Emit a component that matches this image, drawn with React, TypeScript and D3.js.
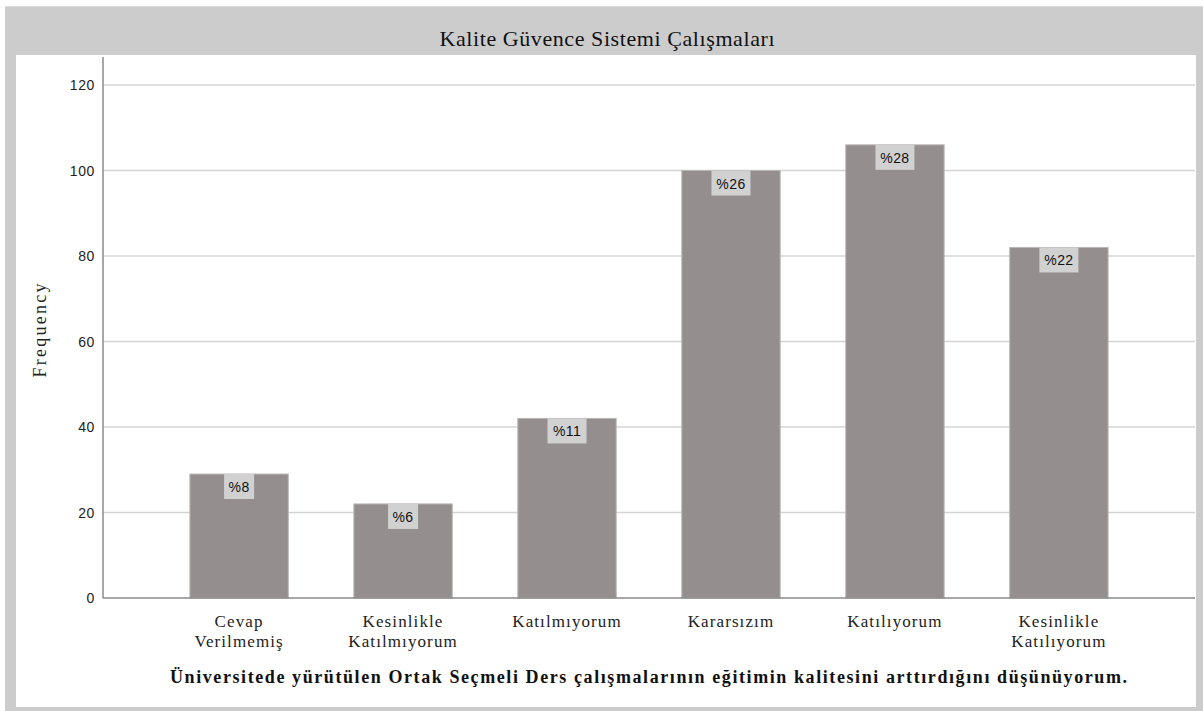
import React from "react";
import * as d3 from "d3";

const categories: string[][] = [
  ["Cevap", "Verilmemiş"],
  ["Kesinlikle", "Katılmıyorum"],
  ["Katılmıyorum"],
  ["Kararsızım"],
  ["Katılıyorum"],
  ["Kesinlikle", "Katılıyorum"],
];
const frequencies: number[] = [29, 22, 42, 100, 106, 82];
const percentLabels: string[] = ["%8", "%6", "%11", "%26", "%28", "%22"];
const yTicks: number[] = [0, 20, 40, 60, 80, 100, 120];

const chartTitle = "Kalite Güvence Sistemi Çalışmaları";
const xTitle =
  "Üniversitede yürütülen Ortak Seçmeli Ders çalışmalarının eğitimin kalitesini arttırdığını düşünüyorum.";
const yTitle = "Frequency";

const W = 1203;
const H = 711;
const plotLeft = 103;
const plotRight = 1195;
const plotTop = 57;
const plotBottom = 598;

const serif: React.CSSProperties = { fontFamily: "Liberation Serif" };
const sans: React.CSSProperties = { fontFamily: "Liberation Sans" };

export default function App() {
  const x = d3
    .scaleBand<number>()
    .domain(d3.range(categories.length))
    .range([plotLeft, plotRight])
    .paddingInner(0.4)
    .paddingOuter(0.53);
  const y = d3.scaleLinear().domain([0, 120]).range([plotBottom, 85]);

  return (
    <div style={{ position: "absolute", left: 0, top: 0 }}>
      <svg width={W} height={H} style={{ display: "block" }}>
        <rect x={0} y={0} width={W} height={H} fill="#ffffff" />
        <rect x={5} y={6} width={W - 5} height={H - 6} fill="#cccccc" />
        <rect x={5} y={6} width={W - 5} height={1} fill="#dedede" />
        <rect x={16} y={55} width={1180} height={652} fill="#ffffff" />

        <text
          x={607}
          y={46}
          textAnchor="middle"
          style={serif}
          fontSize={22}
          textLength={335}
          lengthAdjust="spacing"
          fill="#111"
        >
          {chartTitle}
        </text>

        {yTicks
          .filter((t) => t !== 0)
          .map((t) => (
            <line
              key={"g" + t}
              x1={plotLeft}
              x2={plotRight}
              y1={y(t)}
              y2={y(t)}
              stroke="#d4d4d4"
              strokeWidth={1.6}
            />
          ))}

        {yTicks.map((t) => (
          <text
            key={"t" + t}
            x={95}
            y={y(t) + 5}
            textAnchor="end"
            style={sans}
            fontSize={14}
            letterSpacing={0.6}
            fill="#222"
          >
            {t}
          </text>
        ))}

        {frequencies.map((v, i) => {
          const bx = x(i)!;
          const bw = x.bandwidth();
          const by = y(v);
          const lbl = percentLabels[i];
          const boxW = 12 + 9 * lbl.length;
          const cx = bx + bw / 2;
          return (
            <g key={"b" + i}>
              <rect
                x={bx}
                y={by}
                width={bw}
                height={plotBottom - by}
                fill="#948f8e"
                stroke="#bab6b5"
                strokeWidth={1}
              />
              <rect x={cx - boxW / 2} y={by} width={boxW} height={25} fill="#d1d1d1" />
              <text
                x={cx}
                y={by + 18}
                textAnchor="middle"
                style={sans}
                fontSize={14}
                letterSpacing={0.4}
                fill="#111"
              >
                {lbl}
              </text>
            </g>
          );
        })}

        <line x1={plotLeft} x2={plotLeft} y1={plotTop} y2={plotBottom} stroke="#8a8a8a" strokeWidth={1.5} />
        <line x1={plotLeft} x2={plotRight} y1={plotBottom} y2={plotBottom} stroke="#8a8a8a" strokeWidth={1.5} />

        {categories.map((lines, i) => {
          const cx = x(i)! + x.bandwidth() / 2;
          return (
            <text
              key={"c" + i}
              textAnchor="middle"
              style={serif}
              fontSize={17}
              letterSpacing={1.1}
              fill="#222"
            >
              {lines.map((ln, j) => (
                <tspan key={j} x={cx} y={627 + j * 20}>
                  {ln}
                </tspan>
              ))}
            </text>
          );
        })}

        <text
          x={648.5}
          y={683}
          textAnchor="middle"
          style={serif}
          fontSize={18}
          fontWeight="bold"
          textLength={957}
          lengthAdjust="spacing"
          fill="#111"
        >
          {xTitle}
        </text>

        <text
          transform={`translate(46,${(plotTop + plotBottom) / 2 + 3}) rotate(-90)`}
          textAnchor="middle"
          style={serif}
          fontSize={18}
          textLength={94}
          lengthAdjust="spacing"
          fill="#222"
        >
          {yTitle}
        </text>
      </svg>
    </div>
  );
}
